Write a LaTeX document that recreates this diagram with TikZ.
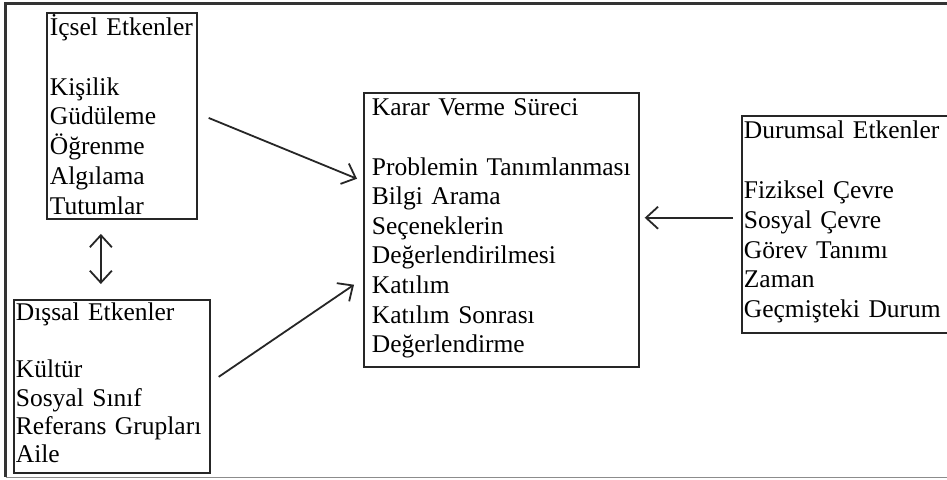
\documentclass[tikz,border=0pt]{standalone}
\usepackage{fontspec}
\setmainfont[WordSpace=0.7]{Liberation Serif}
\usetikzlibrary{arrows.meta,calc}
\setlength\parindent{0pt}
\newcommand{\topstrut}[1]{\rule{0pt}{#1pt}}
\newcommand{\botstrut}[1]{\rule[-#1pt]{0pt}{#1pt}}
\tikzset{
  boxnode/.style={draw=black!85, line width=1.7pt, anchor=north west, inner ysep=0pt, align=left},
  arr/.style={draw=black!85, line width=1.8pt, -{Straight Barb[length=12pt,width=22pt,line width=1.8pt]}},
  dblarr/.style={draw=black!85, line width=1.8pt, {Straight Barb[length=12pt,width=22pt,line width=1.8pt]}-{Straight Barb[length=12pt,width=22pt,line width=1.8pt]}},
}
\begin{document}
\begin{tikzpicture}[x=1pt,y=-1pt]
\useasboundingbox (0,0) rectangle (947,479);
\clip (0,0) rectangle (947,479);
\fill[white] (0,0) rectangle (947,479);
% outer frame
\draw[black!80, line width=2.4pt] (960,3.5) -- (5.5,3.5) -- (5.5,477);
\draw[black!45, line width=1pt] (5.5,477) -- (960,477);

\node[boxnode, inner xsep=3pt, text width=144pt, font=\fontsize{25.5}{29.7}\selectfont] (icsel) at (46,12)
 {\topstrut{23}İçsel Etkenler\\ \mbox{}\\ Kişilik\\ Güdüleme\\ Öğrenme\\ Algılama\\ Tutumlar\botstrut{5}};

\node[boxnode, inner xsep=2pt, text width=192pt, font=\fontsize{25.5}{28.4}\selectfont] (dissal) at (13,299)
 {\topstrut{21}Dışsal Etkenler\\ \mbox{}\\ Kültür\\ Sosyal Sınıf\\ Referans Grupları\\ Aile\botstrut{10}};

\node[boxnode, inner xsep=8pt, text width=259pt, font=\fontsize{25.5}{29.6}\selectfont] (karar) at (363,92)
 {\topstrut{23}Karar Verme Süreci\\ \mbox{}\\ Problemin Tanımlanması\\ Bilgi Arama\\ Seçeneklerin\\ Değerlendirilmesi\\ Katılım\\ Katılım Sonrası\\ Değerlendirme\botstrut{14}};

\node[boxnode, inner xsep=2pt, text width=215pt, font=\fontsize{25.5}{29.8}\selectfont] (durum) at (741,115)
 {\topstrut{23}Durumsal Etkenler\\ \mbox{}\\ Fiziksel Çevre\\ Sosyal Çevre\\ Görev Tanımı\\ Zaman\\ Geçmişteki Durum\botstrut{15}};

% connectors
\draw[arr] ($(icsel.east)+(11,2)$) -- ($(karar.west)+(-6,-51)$);
\draw[arr] ($(dissal.east)+(8,-9.5)$) -- ($(karar.west)+(-9,55)$);
\draw[dblarr] ($(icsel.south)+(-21,14)$) -- ($(dissal.north)+(-11,-15)$);
\draw[arr] ($(durum.west)+(-8,-6.5)$) -- ($(karar.east)+(5,-12)$);
\end{tikzpicture}
\end{document}
